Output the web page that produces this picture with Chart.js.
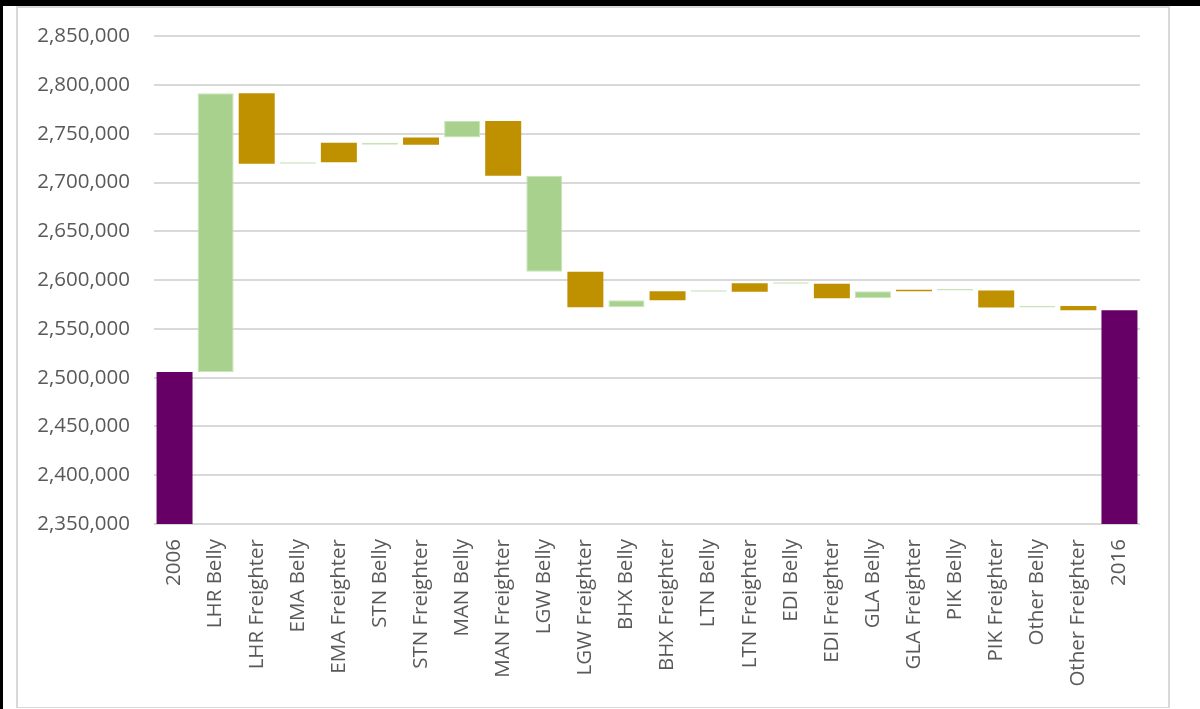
<!DOCTYPE html>
<html>
<head>
<meta charset="utf-8">
<script src="https://cdn.jsdelivr.net/npm/chart.js@4.4.1/dist/chart.umd.min.js"></script>
<style>
  html, body { margin: 0; padding: 0; background: #ffffff; }
  body { width: 1200px; height: 709px; position: relative; overflow: hidden; }
  .edge-top { position: absolute; left: 0; top: 0; width: 1200px; height: 6px; background: #000; }
  .edge-left { position: absolute; left: 0; top: 0; width: 3px; height: 709px; background: #000; }
  .frame { position: absolute; left: 16px; top: 6px; width: 1154px; height: 702px;
           box-sizing: border-box; border: 2px solid #d9d9d9; border-bottom-width: 1px; }
  #chart { position: absolute; left: 0; top: 0; }
</style>
</head>
<body>
<div class="edge-top"></div>
<div class="edge-left"></div>
<div class="frame"></div>
<canvas id="chart" width="1200" height="709"></canvas>
<script>
// Airport categories, left to right
const categories = [
  '2006',
  'LHR Belly', 'LHR Freighter',
  'EMA Belly', 'EMA Freighter',
  'STN Belly', 'STN Freighter',
  'MAN Belly', 'MAN Freighter',
  'LGW Belly', 'LGW Freighter',
  'BHX Belly', 'BHX Freighter',
  'LTN Belly', 'LTN Freighter',
  'EDI Belly', 'EDI Freighter',
  'GLA Belly', 'GLA Freighter',
  'PIK Belly', 'PIK Freighter',
  'Other Belly', 'Other Freighter',
  '2016'
];

// Opening total (2006)
const startTotal = 2505800;

// Change contributed by each airport / cargo type, 2006 -> 2016
const changes = [
  285700, -72200,
  1500, 20000,
  -2100, 7500,
  17000, -56200,
  -98300, -36500,
  7200, 9100,
  -300, 8500,
  -500, -14800,
  7100, 1100,
  -200, -17500,
  1600, -4400
];

// Value axis range and tick step
const yMin = 2350000;
const yMax = 2850000;
const yStep = 50000;

// Build the floating bars of the waterfall from the running total
const ranges = [];
let running = startTotal;
ranges.push([0, startTotal]);
changes.forEach(d => {
  const next = running + d;
  ranges.push([Math.min(running, next), Math.max(running, next)]);
  running = next;
});
ranges.push([0, running]);

const colourFor = label =>
  label.includes('Belly') ? '#A9D18E' :
  label.includes('Freighter') ? '#BF9000' : '#660066';
const borderFor = label =>
  label.includes('Belly') ? '#C9E3B8' : colourFor(label);

Chart.defaults.font.family = '"Open Sans", "DejaVu Sans", sans-serif';
Chart.defaults.font.size = 20.5;
Chart.defaults.color = '#595959';

new Chart(document.getElementById('chart'), {
  type: 'bar',
  data: {
    labels: categories,
    datasets: [{
      data: ranges,
      backgroundColor: categories.map(colourFor),
      borderColor: categories.map(borderFor),
      borderWidth: categories.map(l => l.includes('Belly') ? 1 : 0),
      borderSkipped: false,
      minBarLength: 1.5,
      barPercentage: 0.876,
      categoryPercentage: 1.0
    }]
  },
  options: {
    responsive: false,
    animation: false,
    devicePixelRatio: 1,
    layout: { padding: { left: 0, top: 34, right: 60, bottom: 0 } },
    plugins: {
      legend: { display: false },
      tooltip: { enabled: false }
    },
    scales: {
      x: {
        grid: { display: false, drawTicks: false },
        border: { display: false },
        ticks: {
          autoSkip: false,
          maxRotation: 90,
          minRotation: 90,
          padding: 15,
          color: '#595959'
        },
        afterFit: scale => { scale.height = 185; }
      },
      y: {
        min: yMin,
        max: yMax,
        grid: { color: '#d9d9d9', lineWidth: 2, drawTicks: false },
        border: { display: false },
        ticks: {
          stepSize: yStep,
          padding: 24,
          color: '#595959',
          callback: v => v.toLocaleString('en-US')
        },
        afterFit: scale => { scale.width = 154; }
      }
    }
  }
});
</script>
</body>
</html>
